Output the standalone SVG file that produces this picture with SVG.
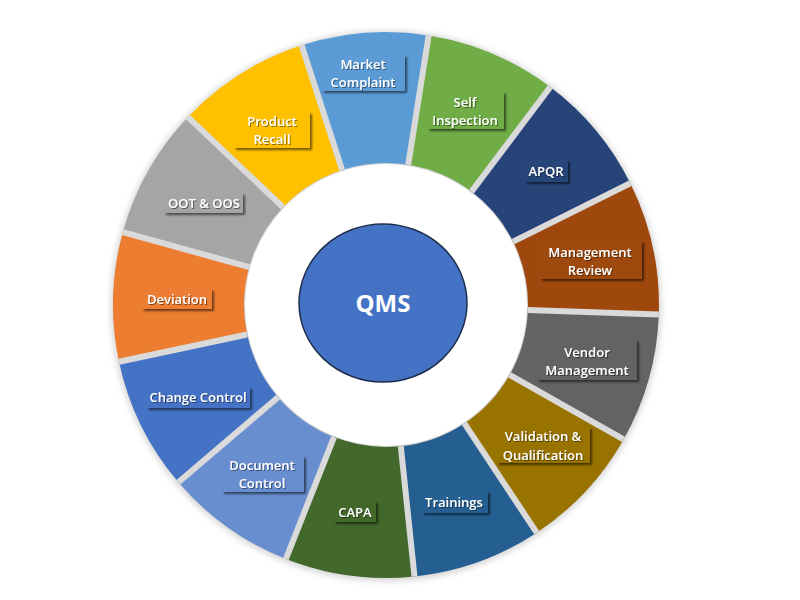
<svg xmlns="http://www.w3.org/2000/svg" width="800" height="600" viewBox="0 0 800 600">
<defs>
<filter id="ringShadow" x="-10%" y="-10%" width="120%" height="120%">
<feGaussianBlur stdDeviation="3"/>
</filter>
<filter id="boxShadow" x="-20%" y="-30%" width="150%" height="170%">
<feDropShadow dx="2" dy="2" stdDeviation="1.3" flood-color="#000" flood-opacity="0.55"/>
</filter>
<filter id="txtShadow" x="-10%" y="-20%" width="130%" height="150%">
<feDropShadow dx="1" dy="1" stdDeviation="0.6" flood-color="#000" flood-opacity="0.45"/>
</filter>
</defs>
<style>
.seg{stroke:none}
.gap{stroke:#dadada;stroke-width:6;stroke-linecap:butt}
.box{filter:url(#boxShadow)}
.lbl{font-family:"Open Sans","Liberation Sans",sans-serif;font-weight:600;font-size:13px;fill:#ffffff;text-anchor:middle;filter:url(#txtShadow)}
.qms{font-family:"Open Sans","Liberation Sans",sans-serif;font-weight:700;font-size:24px;fill:#ffffff;text-anchor:middle}
</style>
<rect width="800" height="600" fill="#ffffff"/>
<circle cx="386" cy="306" r="275" fill="#d4d4d4" filter="url(#ringShadow)"/>
<circle cx="386" cy="305" r="141" fill="#ffffff"/>

<g id="market-complaint">
<path class="seg" fill="#5b9bd5" d="M301.6,45.3 A273,273 0 0 1 428.7,35.4 L408.2,164.7 A142,142 0 0 0 342.1,169.9 Z"/>
<rect class="box" x="322" y="55" width="83" height="36" fill="#5b9bd5"/>
<text class="lbl" x="363" y="68.5">Market</text>
<text class="lbl" x="363" y="86.5">Complaint</text>
</g>
<g id="self-inspection">
<path class="seg" fill="#70ad47" d="M428.7,35.4 A273,273 0 0 1 550.3,87.0 L471.5,191.6 A142,142 0 0 0 408.2,164.7 Z"/>
<rect class="box" x="428" y="92" width="76" height="37" fill="#70ad47"/>
<text class="lbl" x="465" y="106.5">Self</text>
<text class="lbl" x="465" y="124.5">Inspection</text>
</g>
<g id="apqr">
<path class="seg" fill="#264478" d="M550.3,87.0 A273,273 0 0 1 630.3,183.2 L513.1,241.6 A142,142 0 0 0 471.5,191.6 Z"/>
<rect class="box" x="525" y="160" width="43" height="22" fill="#264478"/>
<text class="lbl" x="546" y="175.5">APQR</text>
</g>
<g id="management-review">
<path class="seg" fill="#9e480e" d="M630.3,183.2 A273,273 0 0 1 658.8,314.5 L527.9,310.0 A142,142 0 0 0 513.1,241.6 Z"/>
<rect class="box" x="540" y="241" width="102" height="38" fill="#9e480e"/>
<text class="lbl" x="590" y="256.5">Management</text>
<text class="lbl" x="590" y="274.5">Review</text>
</g>
<g id="vendor-management">
<path class="seg" fill="#636363" d="M658.8,314.5 A273,273 0 0 1 623.6,439.4 L509.6,374.9 A142,142 0 0 0 527.9,310.0 Z"/>
<rect class="box" x="537" y="340" width="100" height="40" fill="#636363"/>
<text class="lbl" x="587" y="356.5">Vendor</text>
<text class="lbl" x="587" y="374.5">Management</text>
</g>
<g id="validation-qualification">
<path class="seg" fill="#997300" d="M623.6,439.4 A273,273 0 0 1 536.7,532.7 L464.4,423.4 A142,142 0 0 0 509.6,374.9 Z"/>
<rect class="box" x="497" y="427" width="93" height="36" fill="#997300"/>
<text class="lbl" x="543" y="440.5">Validation &amp;</text>
<text class="lbl" x="543" y="459.5">Qualification</text>
</g>
<g id="trainings">
<path class="seg" fill="#255e91" d="M536.7,532.7 A273,273 0 0 1 414.5,576.5 L400.8,446.2 A142,142 0 0 0 464.4,423.4 Z"/>
<rect class="box" x="422" y="491" width="66" height="22" fill="#255e91"/>
<text class="lbl" x="454" y="506.5">Trainings</text>
</g>
<g id="capa">
<path class="seg" fill="#43682b" d="M414.5,576.5 A273,273 0 0 1 285.9,559.0 L334.0,437.1 A142,142 0 0 0 400.8,446.2 Z"/>
<rect class="box" x="334" y="501" width="42" height="21" fill="#43682b"/>
<text class="lbl" x="355" y="516.5">CAPA</text>
</g>
<g id="document-control">
<path class="seg" fill="#698ed0" d="M285.9,559.0 A273,273 0 0 1 178.4,482.3 L278.0,397.2 A142,142 0 0 0 334.0,437.1 Z"/>
<rect class="box" x="222" y="456" width="82" height="36" fill="#698ed0"/>
<text class="lbl" x="262" y="469.5">Document</text>
<text class="lbl" x="262" y="487.5">Control</text>
</g>
<g id="change-control">
<path class="seg" fill="#4472c4" d="M178.4,482.3 A273,273 0 0 1 119.0,361.8 L247.1,334.5 A142,142 0 0 0 278.0,397.2 Z"/>
<rect class="box" x="147" y="387" width="103" height="21" fill="#4472c4"/>
<text class="lbl" x="198" y="401.5">Change Control</text>
</g>
<g id="deviation">
<path class="seg" fill="#ed7d31" d="M119.0,361.8 A273,273 0 0 1 122.9,232.1 L249.2,267.1 A142,142 0 0 0 247.1,334.5 Z"/>
<rect class="box" x="142" y="289" width="70" height="20" fill="#ed7d31"/>
<text class="lbl" x="177" y="303.5">Deviation</text>
</g>
<g id="oot-oos">
<path class="seg" fill="#a5a5a5" d="M122.9,232.1 A273,273 0 0 1 188.0,117.1 L283.0,207.2 A142,142 0 0 0 249.2,267.1 Z"/>
<rect class="box" x="164" y="193" width="79" height="20" fill="#a5a5a5"/>
<text class="lbl" x="204" y="207.5">OOT &amp; OOS</text>
</g>
<g id="product-recall">
<path class="seg" fill="#ffc000" d="M188.0,117.1 A273,273 0 0 1 301.6,45.3 L342.1,169.9 A142,142 0 0 0 283.0,207.2 Z"/>
<rect class="box" x="234" y="112" width="76" height="36" fill="#ffc000"/>
<text class="lbl" x="272" y="125.5">Product</text>
<text class="lbl" x="272" y="143.5">Recall</text>
</g>

<g id="connectors">
<line class="gap" x1="342.1" y1="169.9" x2="301.6" y2="45.3"/>
<line class="gap" x1="408.2" y1="164.7" x2="428.7" y2="35.4"/>
<line class="gap" x1="471.5" y1="191.6" x2="550.3" y2="87.0"/>
<line class="gap" x1="513.1" y1="241.6" x2="630.3" y2="183.2"/>
<line class="gap" x1="527.9" y1="310.0" x2="658.8" y2="314.5"/>
<line class="gap" x1="509.6" y1="374.9" x2="623.6" y2="439.4"/>
<line class="gap" x1="464.4" y1="423.4" x2="536.7" y2="532.7"/>
<line class="gap" x1="400.8" y1="446.2" x2="414.5" y2="576.5"/>
<line class="gap" x1="334.0" y1="437.1" x2="285.9" y2="559.0"/>
<line class="gap" x1="278.0" y1="397.2" x2="178.4" y2="482.3"/>
<line class="gap" x1="247.1" y1="334.5" x2="119.0" y2="361.8"/>
<line class="gap" x1="249.2" y1="267.1" x2="122.9" y2="232.1"/>
<line class="gap" x1="283.0" y1="207.2" x2="188.0" y2="117.1"/>
</g>

<g id="qms">
<ellipse cx="383" cy="303" rx="84" ry="79" fill="#4472c4" stroke="#1f2d4d" stroke-width="1.5"/>
<text class="qms" x="383" y="311.5">QMS</text>
</g>
</svg>
